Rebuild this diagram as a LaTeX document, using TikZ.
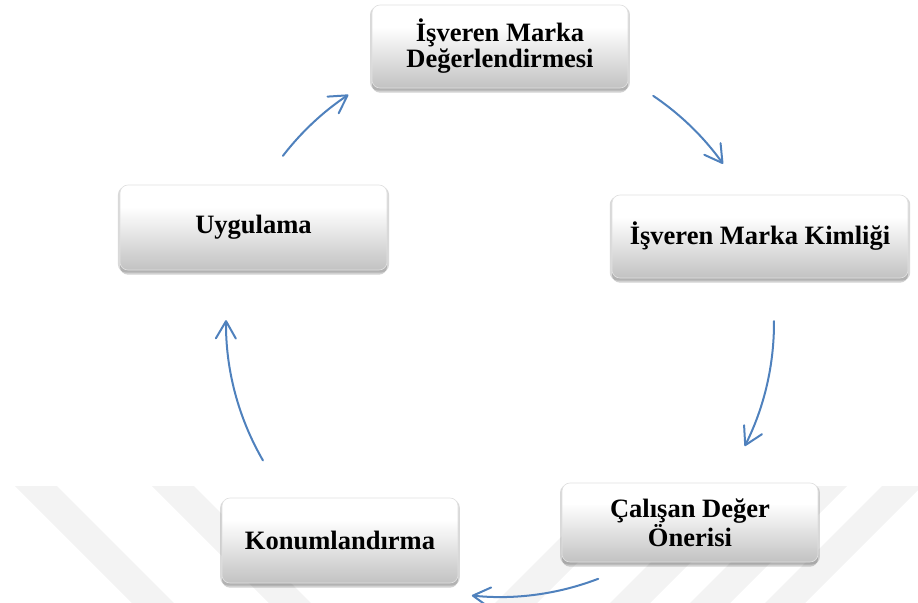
\documentclass[tikz,border=0pt]{standalone}
\usepackage{fontspec}
\setmainfont{Liberation Serif}
\usetikzlibrary{arrows.meta,calc,shadows}
\definecolor{arrowblue}{RGB}{79,129,189}
\definecolor{wmgray}{RGB}{243,243,243}
% glossy fill: white upper half fading to light grey at the bottom
\pgfdeclareverticalshading{gloss}{100bp}{color(0bp)=(black!24); color(25bp)=(black!24); color(45bp)=(black!11); color(62bp)=(white); color(100bp)=(white)}
\begin{document}
\begin{tikzpicture}[x=0.75pt,y=-0.75pt,
  stage/.style={rounded corners=6pt, shading=gloss, draw=black!12, line width=0.5pt,
    align=center, inner sep=2pt,
    font=\fontsize{19.9pt}{19.5pt}\selectfont\bfseries,
    drop shadow={shadow xshift=0pt, shadow yshift=-3.5pt, opacity=0.18, fill=black},
    drop shadow={shadow xshift=0pt, shadow yshift=-1.5pt, shadow scale=1.015, opacity=0.15, fill=black}},
  cyc/.style={draw=arrowblue, line width=1.5pt, line cap=round,
    -{Straight Barb[length=13pt,width=15pt,round]}},
  wm/.style={fill=wmgray}]
\useasboundingbox (0,0) rectangle (918,603);

% faint background bands
\fill[wm] (15,486) -- (57,486) -- (174,603) -- (132,603) -- cycle;
\fill[wm] (152,486) -- (194,486) -- (311,603) -- (269,603) -- cycle;
\fill[wm] (612,486) -- (654,486) -- (537,603) -- (495,603) -- cycle;
\fill[wm] (727,486) -- (767,486) -- (650,603) -- (610,603) -- cycle;
\fill[wm] (807,486) -- (847,486) -- (730,603) -- (690,603) -- cycle;
\fill[wm] (882,486) -- (922,486) -- (805,603) -- (765,603) -- cycle;

% stages of the cycle
\node[stage, minimum width=192pt, minimum height=62.25pt] (eval) at (500,46.5)
  {İşveren Marka\\Değerlendirmesi};
\node[stage, minimum width=222pt, minimum height=62.25pt] (ident) at (760,236.5)
  {İşveren Marka Kimliği};
\node[stage, minimum width=192pt, minimum height=59.25pt] (evp) at (690,522.5)
  {Çalışan Değer\\Önerisi};
\node[stage, minimum width=177pt, minimum height=63.75pt] (pos) at (340,540.5)
  {Konumlandırma};
\node[stage, minimum width=200.25pt, minimum height=63.75pt] (impl) at (253.5,227.5)
  {Uygulama};

% circular connectors around a common centre
\coordinate (c) at (500,323);
\coordinate (s1) at ($(c)+(-142.4:274)$);
\coordinate (s2) at ($(c)+(-56.0:274)$);
\coordinate (s3) at ($(c)+(-0.4:274)$);
\coordinate (s4) at ($(c)+(69.0:274)$);
\coordinate (s5) at ($(c)+(149.9:274)$);
\draw[cyc] (s1) arc[start angle=-142.4, end angle=-123.6, radius=274];
\draw[cyc] (s2) arc[start angle=-56.0, end angle=-35.5, radius=274];
\draw[cyc] (s3) arc[start angle=-0.4, end angle=26.7, radius=274];
\draw[cyc] (s4) arc[start angle=69.0, end angle=95.9, radius=274];
\draw[cyc] (s5) arc[start angle=149.9, end angle=180.6, radius=274];
\end{tikzpicture}
\end{document}
